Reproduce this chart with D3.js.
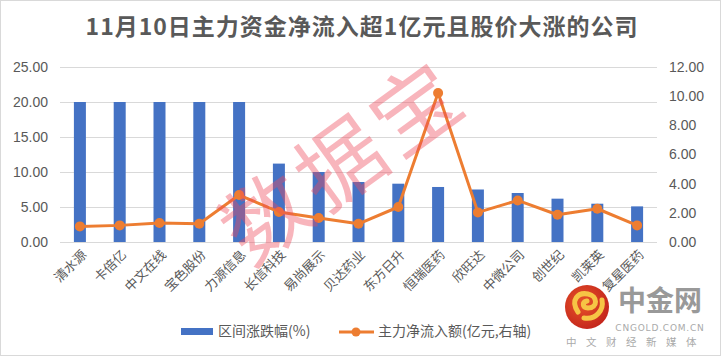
<!DOCTYPE html>
<html><head><meta charset="utf-8">
<script src="https://cdn.jsdelivr.net/npm/d3@7"></script>
<style>
body{margin:0;background:#fff;}
svg{display:block;font-family:"Noto Sans CJK SC","Noto Sans",sans-serif;}
</style></head>
<body>
<svg id="c" width="721" height="356"></svg>
<script>
const title = "11月10日主力资金净流入超1亿元且股价大涨的公司";
const categories = ["清水源","卡倍亿","中文在线","宝色股份","力源信息","长信科技","易尚展示","贝达药业","东方日升","恒瑞医药","欣旺达","中微公司","创世纪","凯莱英","复星医药"];
const changePct = [20.0,20.0,20.0,20.0,20.0,11.2,10.0,8.57,8.33,7.86,7.5,7.0,6.19,5.47,5.09];
const netInflow = [1.07,1.14,1.30,1.25,3.22,2.06,1.65,1.25,2.4,10.22,2.03,2.85,1.87,2.28,1.14];
const leftTicks = [0,5,10,15,20,25];
const rightTicks = [0,2,4,6,8,10,12];
const seriesNames = ["区间涨跌幅(%)","主力净流入额(亿元,右轴)"];

const svg = d3.select("#c");
const W=721,H=356;
const m={l:60,r:64,t:67,b:114};
const xc=d3.scaleBand().domain(categories).range([m.l,W-m.r]);
const yL=d3.scaleLinear().domain([0,25]).range([H-m.b,m.t]);
const yR=d3.scaleLinear().domain([0,12]).range([H-m.b,m.t]);
const gray="#595959";

svg.append("rect").attr("x",0.5).attr("y",0.5).attr("width",W-1).attr("height",H-1).attr("fill","#fff").attr("stroke","#d9d9d9");

svg.append("text").attr("x",362).attr("y",35).attr("text-anchor","middle")
 .attr("font-size",23).attr("font-weight","bold").attr("fill",gray).attr("letter-spacing",1).text(title);

// grid
svg.append("g").selectAll("line").data(leftTicks).join("line")
 .attr("x1",m.l).attr("x2",W-m.r).attr("y1",d=>Math.round(yL(d))+0.5).attr("y2",d=>Math.round(yL(d))+0.5)
 .attr("stroke","#d9d9d9").attr("stroke-width",1);

// axes labels
const axL=svg.append("g").attr("transform",`translate(${m.l-12},0)`)
 .call(d3.axisLeft(yL).tickValues(leftTicks).tickFormat(d3.format(".2f")).tickSize(0).tickPadding(0));
axL.select(".domain").remove();
axL.selectAll("text").attr("font-size",14).attr("fill",gray).attr("font-family","'Liberation Sans',Arial,sans-serif");
const axR=svg.append("g").attr("transform",`translate(${W-m.r+12},0)`)
 .call(d3.axisRight(yR).tickValues(rightTicks).tickFormat(d3.format(".2f")).tickSize(0).tickPadding(0));
axR.select(".domain").remove();
axR.selectAll("text").attr("font-size",14).attr("fill",gray).attr("font-family","'Liberation Sans',Arial,sans-serif");

// bars
svg.append("g").selectAll("rect").data(categories).join("rect")
 .attr("x",(d)=>xc(d)+xc.bandwidth()/2-6).attr("width",12)
 .attr("y",(d,i)=>yL(changePct[i])).attr("height",(d,i)=>yL(0)-yL(changePct[i]))
 .attr("fill","#4472C4");

// line
const cx=d=>xc(d)+xc.bandwidth()/2;
svg.append("path").datum(categories).attr("fill","none").attr("stroke","#ED7D31").attr("stroke-width",3)
 .attr("stroke-linejoin","round")
 .attr("d",d3.line().x(d=>cx(d)).y((d,i)=>yR(netInflow[i])));
svg.append("g").selectAll("circle").data(categories).join("circle")
 .attr("cx",d=>cx(d)).attr("cy",(d,i)=>yR(netInflow[i])).attr("r",5).attr("fill","#ED7D31");

// x labels
svg.append("g").selectAll("text").data(categories).join("text")
 .attr("transform",d=>`translate(${cx(d)+5},${H-m.b+11}) rotate(-45)`)
 .attr("text-anchor","end").attr("dominant-baseline","middle")
 .attr("font-size",13).attr("fill",gray).text(d=>d);

// watermark
const wm=svg.append("g").attr("transform","translate(348,168) rotate(-36)").attr("opacity",0.4);
wm.append("text").attr("text-anchor","middle").attr("dominant-baseline","middle")
 .attr("font-size",86).attr("font-weight","normal").attr("fill","#f0485a").attr("letter-spacing",6).text("数据宝");

// legend
const lg=svg.append("g");
lg.append("rect").attr("x",181).attr("y",328).attr("width",32).attr("height",7).attr("fill","#4472C4");
lg.append("text").attr("x",218).attr("y",332).attr("dominant-baseline","middle").attr("font-size",14).attr("fill",gray).text(seriesNames[0]);
lg.append("line").attr("x1",339).attr("x2",374).attr("y1",332).attr("y2",332).attr("stroke","#ED7D31").attr("stroke-width",3);
lg.append("circle").attr("cx",356).attr("cy",332).attr("r",4.5).attr("fill","#ED7D31");
lg.append("text").attr("x",378).attr("y",332).attr("dominant-baseline","middle").attr("font-size",14).attr("fill",gray).text(seriesNames[1]);

// logo
const lo=svg.append("g");
const grad=svg.append("defs").append("radialGradient").attr("id","lg1").attr("cx","40%").attr("cy","40%").attr("r","70%");
grad.append("stop").attr("offset","0%").attr("stop-color","#e8552a");
grad.append("stop").attr("offset","100%").attr("stop-color","#c0201a");
lo.append("circle").attr("cx",587).attr("cy",307).attr("r",22).attr("fill","url(#lg1)");
lo.append("path").attr("d","M578,312 C570,300 578,292 588,294 C598,296 598,308 588,308 C582,308 582,302 587,301 M584,318 C596,320 604,310 602,300")
 .attr("fill","none").attr("stroke","#f6c545").attr("stroke-width",5).attr("stroke-linecap","round");
lo.append("text").attr("x",660).attr("y",311).attr("text-anchor","middle").attr("font-size",28).attr("font-weight","bold").attr("fill","#999").text("中金网");
lo.append("text").attr("x",660).attr("y",331).attr("text-anchor","middle").attr("font-size",9).attr("fill","#aaa").attr("letter-spacing",0.8).attr("font-family","'DejaVu Sans',sans-serif").text("CNGOLD.COM.CN");
lo.append("text").attr("x",636).attr("y",346).attr("text-anchor","middle").attr("font-size",10.5).attr("fill","#aaa").attr("letter-spacing",9.5).text("中文财经新媒体");
</script>
</body></html>
